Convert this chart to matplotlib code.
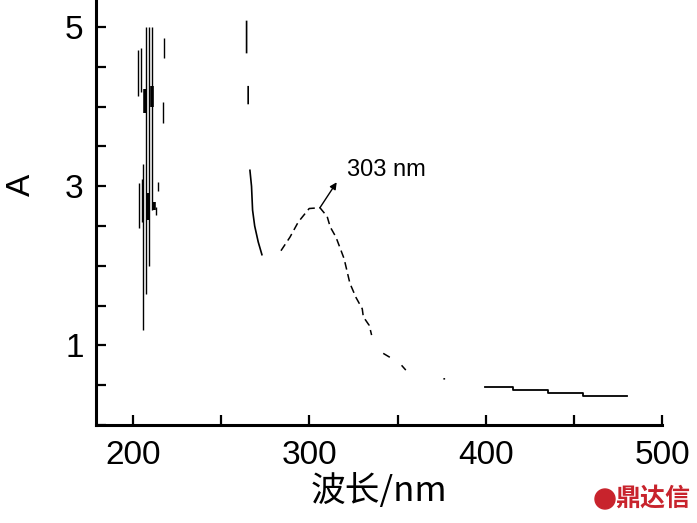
#!/usr/bin/env python3
# UV absorption spectrum, 303 nm band marked. the 200-220 nm region is
# detector noise (saturated), drawn as the raw vertical spikes.

import matplotlib
matplotlib.use("Agg")
import matplotlib.pyplot as plt
from matplotlib.patches import Ellipse
from matplotlib.ticker import FixedLocator, MultipleLocator
import numpy as np

nan = np.nan

# saturated region: thin spikes (wavelength, low A, high A)
SPIKE_WL = [202.7, 204.4, 203.2, 205.1, 205.8, 207.4, 209.2, 210.8, 213.0, 214.2, 216.8, 217.6]
SPIKE_LO = [4.14, 4.18, 2.47, 2.55, 1.19, 1.65, 2.00, 2.70, 2.64, 2.94, 3.79, 4.61]
SPIKE_HI = [4.71, 4.74, 3.04, 3.09, 3.28, 5.00, 5.00, 5.00, 2.74, 3.05, 4.06, 4.86]
# thicker blobs inside the noise
BLOB_WL = [206.8, 208.5, 210.8, 212.0]
BLOB_LO = [3.92, 2.57, 4.00, 2.70]
BLOB_HI = [4.22, 2.91, 4.26, 2.80]

# steep edge after the noise
EDGE_WL = [264.4, 264.4, nan, 265.3, 265.3, nan,
           266.3, 267.2, 267.8, 269.0, 271.0, 273.1]
EDGE_A = [5.07, 4.68, nan, 4.25, 4.04, nan,
          3.20, 3.00, 2.70, 2.50, 2.30, 2.14]

# the 303 nm band and its decay, trace is broken up in the scan
BAND_WL = [283.9, 289.0, 293.7, 299.9, 306.0, 310.1, 311.8, 315.1, 319.7,
           323.0, 326.5, 330.0, 330.6, 334.0, 335.3, nan,
           341.9, 345.7, nan, 352.3, 354.7, nan, 376.0, 377.0]
BAND_A = [2.19, 2.36, 2.55, 2.72, 2.73, 2.62, 2.49, 2.36, 2.09,
          1.78, 1.60, 1.46, 1.36, 1.25, 1.13, nan,
          0.90, 0.85, nan, 0.75, 0.69, nan, 0.58, 0.58]

# long-wavelength tail, recorded in coarse steps
TAIL_WL = [399.5, 415.6, 435.5, 455.3, 479.9]
TAIL_A = [0.476, 0.44, 0.405, 0.36, 0.36]

PEAK_WL, PEAK_A = 306.0, 2.73
PEAK_LABEL = "303 nm"

SANS = ["Liberation Sans", "DejaVu Sans"]
CJK = ["Noto Sans CJK SC", "DejaVu Sans"]

fig = plt.figure(figsize=(6.97, 5.23), dpi=100)
ax = fig.add_axes([96 / 697, 1 - 425 / 523, 566 / 697, 425 / 523])

ax.vlines(SPIKE_WL, SPIKE_LO, SPIKE_HI, color="black", linewidth=1.0)
ax.vlines(BLOB_WL, BLOB_LO, BLOB_HI, color="black", linewidth=2.6)
ax.plot(EDGE_WL, EDGE_A, color="black", linewidth=1.2)
ax.plot(BAND_WL, BAND_A, color="black", linewidth=1.1, linestyle=(0, (5, 3)))
ax.plot(TAIL_WL, TAIL_A, color="black", linewidth=1.3, drawstyle="steps-post")

ax.text(321.5, 3.2, PEAK_LABEL, fontsize=17, family=SANS,
        va="center", ha="left")
ax.annotate("", xy=(315.5, 3.05), xytext=(PEAK_WL, PEAK_A),
            arrowprops=dict(arrowstyle="-|>", color="black", lw=1.0,
                            mutation_scale=10, shrinkA=0, shrinkB=0))

ax.set_xlim(179, 500)
ax.set_ylim(0, 5.34)
ax.xaxis.set_major_locator(FixedLocator([200, 300, 400, 500]))
ax.xaxis.set_minor_locator(MultipleLocator(50))
ax.yaxis.set_major_locator(FixedLocator([1, 3, 5]))
ax.yaxis.set_minor_locator(MultipleLocator(0.5))
ax.tick_params(which="both", direction="in", length=7, width=1.6)
ax.tick_params(axis="x", which="major", pad=11, labelsize=24)
ax.tick_params(axis="y", which="major", pad=9, labelsize=24)
for lab in ax.get_xticklabels() + ax.get_yticklabels():
    lab.set_family(SANS)

for side in ("top", "right"):
    ax.spines[side].set_visible(False)
for side in ("left", "bottom"):
    ax.spines[side].set_linewidth(2.2)

ax.set_ylabel("A", fontsize=24, family=SANS)
ax.yaxis.set_label_coords(-0.104, 0.565)
ax.set_xlabel("波长/nm", fontsize=25, family=CJK, labelpad=2)

# source watermark, bottom right
fig.patches.append(Ellipse((605 / 697, 1 - 499 / 523), 20 / 697, 20 / 523,
                           transform=fig.transFigure, color="#c8232c",
                           figure=fig))
fig.text(653 / 697, 1 - 499 / 523, "鼎达信", color="#c8232c", fontsize=18,
         fontweight="bold", family=CJK, ha="center", va="center")

fig.savefig("out.png", dpi=100)
